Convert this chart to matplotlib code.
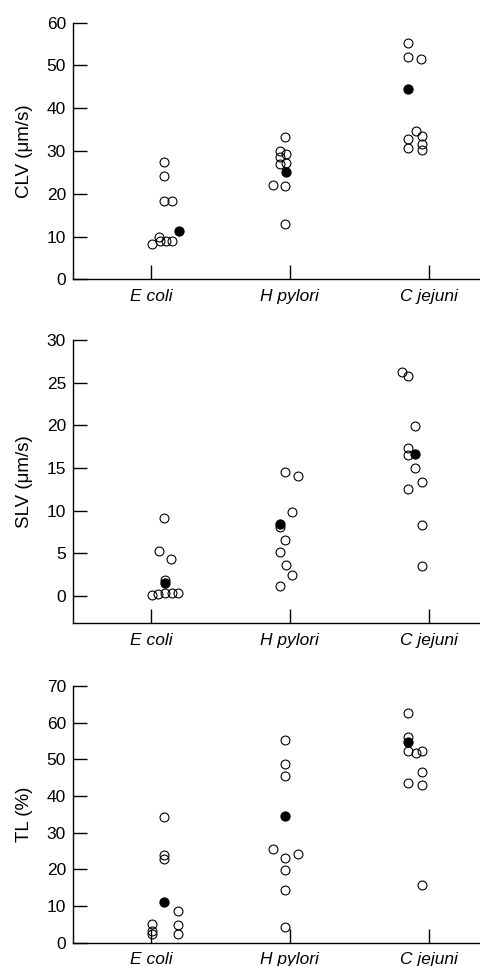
import matplotlib
matplotlib.use("Agg")
import matplotlib.pyplot as plt

plt.rcParams.update({
    "font.family": ["Liberation Sans", "DejaVu Sans"],
    "font.size": 12,
    "axes.linewidth": 1.0,
    "axes.spines.top": False, "axes.spines.right": False,
})

CATEGORIES = ["E coli", "H pylori", "C jejuni"]

# open circles: values per species, horizontal offsets (fraction of category spacing)
clv_open = [
    [27.4, 24.2, 18.2, 18.2, 8.3, 9.8, 8.9, 8.9, 8.9],
    [33.3, 30.0, 28.7, 29.3, 26.9, 27.1, 22.1, 21.9, 13.0],
    [55.3, 52.0, 51.4, 34.7, 32.7, 33.4, 31.6, 30.6, 30.2],
]
clv_open_dx = [
    [0.096, 0.096, 0.096, 0.149, 0.010, 0.060, 0.065, 0.106, 0.153],
    [-0.034, -0.074, -0.074, -0.029, -0.074, -0.029, -0.120, -0.034, -0.034],
    [-0.146, -0.146, -0.058, -0.091, -0.146, -0.048, -0.048, -0.146, -0.048],
]
clv_mean = [11.4, 25.0, 44.5]
clv_mean_dx = [0.201, -0.029, -0.146]

slv_open = [
    [9.2, 5.3, 4.3, 1.9, 0.1, 0.2, 0.3, 0.3, 0.4],
    [14.5, 14.1, 9.9, 8.1, 6.6, 5.2, 3.6, 2.5, 1.2],
    [26.3, 25.8, 19.9, 17.4, 16.5, 15.0, 13.4, 12.5, 8.3, 3.5],
]
slv_open_dx = [
    [0.096, 0.058, 0.144, 0.101, 0.010, 0.053, 0.101, 0.149, 0.192],
    [-0.034, 0.058, 0.014, -0.070, -0.034, -0.070, -0.029, 0.014, -0.070],
    [-0.190, -0.149, -0.098, -0.146, -0.146, -0.098, -0.050, -0.146, -0.048, -0.048],
]
slv_mean = [1.5, 8.5, 16.6]
slv_mean_dx = [0.101, -0.070, -0.098]

tl_open = [
    [34.2, 23.8, 22.7, 8.6, 5.2, 3.3, 2.4, 4.7, 2.5],
    [55.3, 48.7, 45.5, 25.6, 24.3, 23.2, 19.8, 14.3, 4.4],
    [62.7, 56.0, 52.2, 52.2, 51.8, 43.6, 46.5, 42.9, 15.7],
]
tl_open_dx = [
    [0.096, 0.096, 0.096, 0.192, 0.010, 0.010, 0.010, 0.192, 0.192],
    [-0.034, -0.034, -0.034, -0.120, 0.058, -0.034, -0.034, -0.034, -0.034],
    [-0.149, -0.149, -0.149, -0.048, -0.091, -0.149, -0.048, -0.048, -0.048],
]
tl_mean = [11.2, 34.5, 54.8]
tl_mean_dx = [0.096, -0.034, -0.149]

PANELS = [
    ("CLV (\u03bcm/s)", clv_open, clv_open_dx, clv_mean, clv_mean_dx,
     (0, 60), range(0, 61, 10), (0.1521, 0.7109, 0.8479, 0.2656)),
    ("SLV (\u03bcm/s)", slv_open, slv_open_dx, slv_mean, slv_mean_dx,
     (-3.2, 30), range(0, 31, 5), (0.1521, 0.3547, 0.8479, 0.2933)),
    ("TL (%)", tl_open, tl_open_dx, tl_mean, tl_mean_dx,
     (0, 70), range(0, 71, 10), (0.1521, 0.0241, 0.8479, 0.2657)),
]

fig = plt.figure(figsize=(4.8, 9.66), dpi=100)

for label, opn, odx, mean, mdx, ylim, yticks, rect in PANELS:
    ax = fig.add_axes(rect)
    for i, (vals, dxs) in enumerate(zip(opn, odx)):
        ax.plot([i + 1 + d for d in dxs], vals, "o", ms=6.4, mfc="none",
                mec="black", mew=0.8, ls="none", zorder=3)
    ax.plot([i + 1 + d for i, d in enumerate(mdx)], mean, "o", ms=6.6,
            mfc="black", mec="black", mew=0.8, ls="none", zorder=4)
    ax.set_xlim(0.438, 3.369)
    ax.set_ylim(*ylim)
    ax.set_yticks(list(yticks))
    ax.set_xticks([1, 2, 3])
    ax.set_xticklabels(CATEGORIES, fontstyle="italic")
    ax.tick_params(axis="both", direction="in", length=10, width=1.0,
                   labelsize=12.5, pad=5)
    ax.tick_params(axis="x", pad=7)
    ax.set_ylabel(label, fontsize=13.5)
    ax.yaxis.set_label_coords(-0.098, 0.5)

fig.savefig("out.png", dpi=100, facecolor="white")
